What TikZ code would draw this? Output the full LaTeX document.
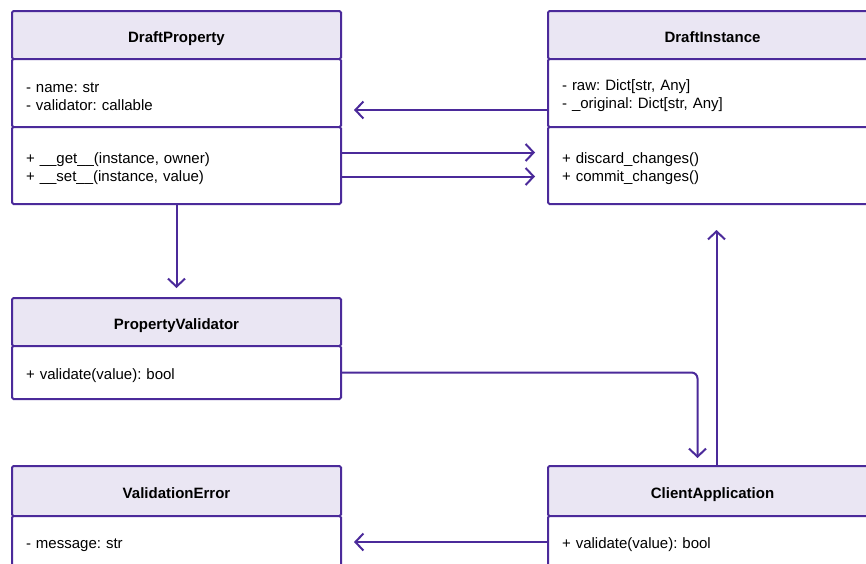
\documentclass[tikz,border=0pt]{standalone}
\usepackage{fontspec}
\setmainfont{Liberation Sans}
\usetikzlibrary{positioning,arrows.meta}
\definecolor{umlline}{HTML}{4B2A9A}
\definecolor{umlhead}{HTML}{EAE6F3}
\frenchspacing

\begin{document}
\begin{tikzpicture}[x=1pt,y=-1pt,
  hdr/.style={draw=umlline, line width=2pt, fill=umlhead, outer sep=0pt, inner sep=0pt,
    minimum width=329pt, minimum height=48pt, rounded corners=1.5pt,
    text height=14pt, text depth=0pt, font=\fontsize{15}{18}\selectfont\bfseries},
  part/.style={draw=umlline, line width=2pt, fill=white, outer sep=0pt, inner ysep=0pt,
    inner xsep=14pt, text width=301pt, align=left, rounded corners=1.5pt,
    font=\fontsize{15}{18}\selectfont, execute at begin node=\rule{0pt}{17pt}},
  link/.style={draw=umlline, line width=2pt, rounded corners=6pt,
    -{Straight Barb[length=8pt,width=17pt,line width=2pt]}}]

\useasboundingbox (0,0) rectangle (866,563);

% DraftProperty
\node[hdr, anchor=north west] (dp) at (12,11) {DraftProperty};
\node[part, below=0pt of dp, minimum height=68pt] (dpA) {- name: str\\- validator: callable};
\node[part, below=0pt of dpA, minimum height=77pt] (dpM) {+ \_\_get\_\_(instance, owner)\\+ \_\_set\_\_(instance, value)};

% DraftInstance
\node[hdr, anchor=north west] (di) at (548,11) {DraftInstance};
\node[part, below=0pt of di, minimum height=68pt] (diA) {- raw: Dict[str, Any]\\- \_original: Dict[str, Any]};
\node[part, below=0pt of diA, minimum height=77pt] (diM) {+ discard\_changes()\\+ commit\_changes()};

% PropertyValidator
\node[hdr, anchor=north west] (pv) at (12,298) {PropertyValidator};
\node[part, below=0pt of pv, minimum height=53pt] (pvM) {+ validate(value): bool};

% ValidationError
\node[hdr, anchor=north west, minimum height=50pt] (ve) at (12,466) {ValidationError};
\node[part, below=0pt of ve, minimum height=52pt] (veA) {- message: str};

% ClientApplication
\node[hdr, anchor=north west, minimum height=50pt] (ca) at (548,466) {ClientApplication};
\node[part, below=0pt of ca, minimum height=52pt] (caM) {+ validate(value): bool};

% connectors
\draw[link, shorten >=13pt] ([yshift=-17pt]diA.west) -- ([yshift=-17pt]diA.west -| dpA.east);
\draw[link, shorten >=13pt] ([yshift=13pt]dpM.east) -- ([yshift=13pt]dpM.east -| diM.west);
\draw[link, shorten >=13pt] ([yshift=-11pt]dpM.east) -- ([yshift=-11pt]dpM.east -| diM.west);
\draw[link, shorten >=10pt] (dpM.south) -- (pv.north);
\draw[link, shorten >=8pt] (pvM.east) -| ([xshift=-15pt]ca.north);
\draw[link, shorten >=26pt] ([xshift=4pt]ca.north) -- ([xshift=4pt]diM.south);
\draw[link, shorten >=13pt] (caM.west) -- (veA.east);

\end{tikzpicture}
\end{document}
